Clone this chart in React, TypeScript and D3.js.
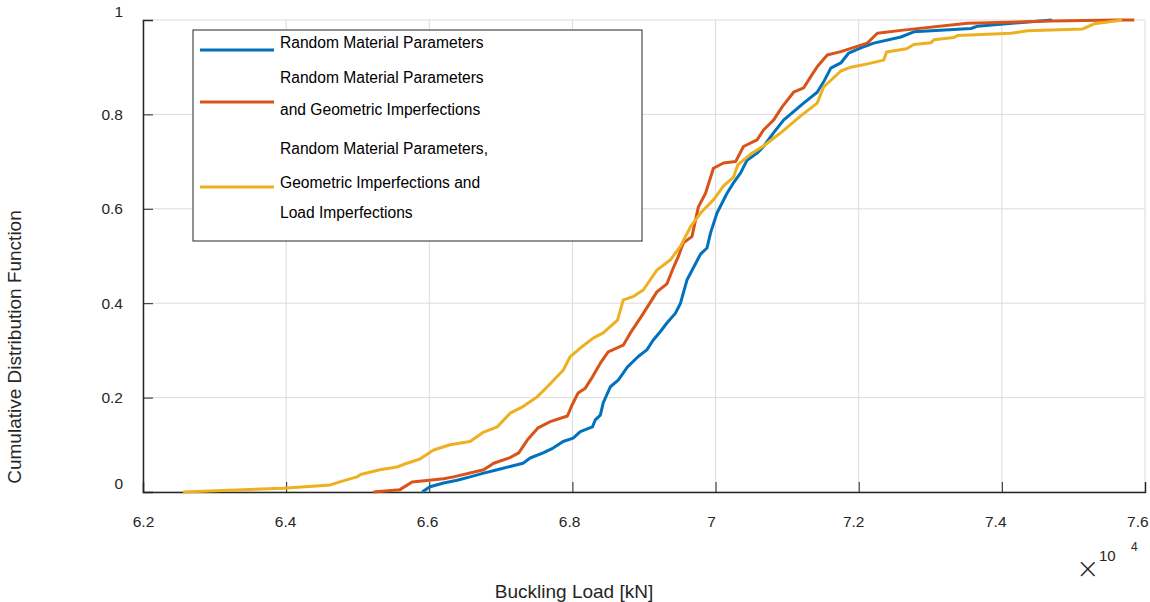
import React, { useEffect, useRef } from "react";
import * as d3 from "d3";

const materialLoad = [65900, 66010, 66200, 66390, 66570, 66760, 66950, 67130, 67310, 67410, 67590, 67730, 67870, 68010, 68110, 68280, 68320, 68390, 68430, 68530, 68640, 68770, 68920, 69040, 69130, 69230, 69320, 69440, 69510, 69600, 69690, 69790, 69880, 69930, 70020, 70160, 70250, 70350, 70440, 70580, 70670, 70810, 70950, 71090, 71230, 71420, 71510, 71610, 71750, 71860, 72030, 72210, 72590, 72770, 73570, 73660, 74700];
const materialCdf = [0, 0.011, 0.019, 0.025, 0.032, 0.04, 0.047, 0.054, 0.061, 0.072, 0.083, 0.093, 0.107, 0.114, 0.128, 0.138, 0.153, 0.163, 0.189, 0.223, 0.237, 0.265, 0.287, 0.301, 0.322, 0.34, 0.358, 0.379, 0.4, 0.449, 0.475, 0.504, 0.517, 0.549, 0.591, 0.633, 0.655, 0.676, 0.703, 0.718, 0.732, 0.761, 0.788, 0.806, 0.824, 0.847, 0.869, 0.898, 0.909, 0.93, 0.941, 0.951, 0.964, 0.975, 0.982, 0.987, 1];

const geomLoad = [65220, 65590, 65760, 66200, 66340, 66760, 66900, 67130, 67250, 67370, 67520, 67690, 67930, 68000, 68080, 68180, 68280, 68390, 68500, 68710, 68810, 68950, 69110, 69180, 69320, 69410, 69480, 69550, 69670, 69760, 69860, 69970, 70110, 70280, 70390, 70580, 70670, 70810, 70930, 71090, 71230, 71330, 71420, 71560, 71750, 72120, 72260, 72590, 73520, 74690, 75620, 75850];
const geomCdf = [0, 0.005, 0.021, 0.028, 0.032, 0.047, 0.061, 0.073, 0.083, 0.11, 0.136, 0.149, 0.161, 0.186, 0.21, 0.22, 0.244, 0.273, 0.297, 0.311, 0.337, 0.369, 0.407, 0.424, 0.441, 0.475, 0.499, 0.528, 0.541, 0.604, 0.633, 0.686, 0.697, 0.7, 0.732, 0.746, 0.767, 0.788, 0.816, 0.847, 0.856, 0.88, 0.901, 0.926, 0.933, 0.951, 0.972, 0.978, 0.993, 0.998, 1, 1];

const loadImpLoad = [62560, 63960, 64620, 64760, 64990, 65040, 65310, 65550, 65690, 65870, 66060, 66290, 66570, 66760, 66950, 67130, 67310, 67510, 67650, 67870, 67970, 68110, 68290, 68430, 68630, 68710, 68850, 68990, 69180, 69370, 69510, 69650, 69790, 69970, 70110, 70250, 70310, 70490, 70670, 70910, 71190, 71420, 71510, 71750, 71890, 72120, 72350, 72390, 72670, 72770, 73010, 73050, 73330, 73380, 74130, 74360, 75130, 75290, 75640, 75680];
const loadImpCdf = [0, 0.008, 0.015, 0.022, 0.032, 0.037, 0.047, 0.053, 0.061, 0.07, 0.089, 0.1, 0.107, 0.127, 0.138, 0.167, 0.181, 0.202, 0.223, 0.258, 0.287, 0.305, 0.326, 0.337, 0.364, 0.407, 0.414, 0.428, 0.47, 0.492, 0.521, 0.562, 0.591, 0.619, 0.648, 0.667, 0.693, 0.716, 0.733, 0.761, 0.797, 0.824, 0.858, 0.892, 0.9, 0.907, 0.915, 0.932, 0.939, 0.948, 0.952, 0.958, 0.963, 0.967, 0.972, 0.977, 0.981, 0.992, 0.999, 1];

const xTicks = [62000, 64000, 66000, 68000, 70000, 72000, 74000, 76000];
const yTicks = [0, 0.2, 0.4, 0.6, 0.8, 1];

const series = [
  { name: ["Random Material Parameters"], load: materialLoad, cdf: materialCdf, color: "#0072BD" },
  { name: ["Random Material Parameters", "and Geometric Imperfections"], load: geomLoad, cdf: geomCdf, color: "#D95319" },
  {
    name: ["Random Material Parameters,", "Geometric Imperfections and", "Load Imperfections"],
    load: loadImpLoad,
    cdf: loadImpCdf,
    color: "#EDB120",
  },
];

const FONT = "'Liberation Sans', Arial, Helvetica, sans-serif";
const INK = "#262626";

const App = () => {
  const ref = useRef<SVGSVGElement>(null);

  useEffect(() => {
    const width = 1150;
    const height = 602;
    const margin = { top: 20, right: 5, bottom: 110, left: 143 };
    const innerW = width - margin.left - margin.right;
    const innerH = height - margin.top - margin.bottom;

    const svg = d3.select(ref.current);
    svg.selectAll("*").remove();
    svg.attr("width", width).attr("height", height);

    const g = svg.append("g").attr("transform", `translate(${margin.left},${margin.top})`);

    const x = d3.scaleLinear().domain([62000, 76000]).range([0, innerW]);
    const y = d3.scaleLinear().domain([0, 1]).range([innerH, 0]);

    // grid
    g.append("g")
      .selectAll("line")
      .data(xTicks)
      .join("line")
      .attr("x1", (d) => x(d))
      .attr("x2", (d) => x(d))
      .attr("y1", 0)
      .attr("y2", innerH)
      .attr("stroke", "#dcdcdc")
      .attr("stroke-width", 1);
    g.append("g")
      .selectAll("line")
      .data(yTicks)
      .join("line")
      .attr("x1", 0)
      .attr("x2", innerW)
      .attr("y1", (d) => y(d))
      .attr("y2", (d) => y(d))
      .attr("stroke", "#dcdcdc")
      .attr("stroke-width", 1);

    // axes, ticks point inward like matlab
    const xAxis = g
      .append("g")
      .attr("transform", `translate(0,${innerH})`)
      .call(d3.axisBottom(x).tickValues(xTicks).tickSize(-10).tickPadding(24).tickFormat((d) => String(+d / 10000)));
    const yAxis = g
      .append("g")
      .call(d3.axisLeft(y).tickValues(yTicks).tickSize(-10).tickPadding(20).tickFormat((d) => String(d)));

    [xAxis, yAxis].forEach((ax) => {
      ax.select(".domain").attr("stroke", INK).attr("stroke-width", 1.5);
      ax.selectAll(".tick line").attr("stroke", INK);
      ax.selectAll("text").attr("fill", INK).style("font-family", FONT).style("font-size", "15.5px");
    });
    xAxis.selectAll<SVGTextElement, number>("text").attr("dx", (d, i) => -i * 1.1);
    yAxis
      .selectAll<SVGTextElement, number>("text")
      .attr("dy", (d) => (d === 0 ? "-0.25em" : d === 1 ? "-0.2em" : "0.32em"));

    // curves
    series.forEach((s) => {
      const pts = s.load.map((v, i) => [v, s.cdf[i]] as [number, number]);
      g.append("path")
        .datum(pts)
        .attr("fill", "none")
        .attr("stroke", s.color)
        .attr("stroke-width", 3)
        .attr("stroke-linejoin", "round")
        .attr("d", d3.line<[number, number]>().x((d) => x(d[0])).y((d) => y(d[1])));
    });

    // legend
    const lg = svg.append("g").attr("transform", "translate(193,30)");
    lg.append("rect").attr("width", 449).attr("height", 211).attr("fill", "#fff").attr("stroke", INK).attr("stroke-width", 1);
    const rows = [
      { lineY: 20, textY: [18] },
      { lineY: 72, textY: [53, 85] },
      { lineY: 157, textY: [124, 158, 188] },
    ];
    series.forEach((s, i) => {
      lg.append("line")
        .attr("x1", 7)
        .attr("x2", 81)
        .attr("y1", rows[i].lineY)
        .attr("y2", rows[i].lineY)
        .attr("stroke", s.color)
        .attr("stroke-width", 3);
      s.name.forEach((t, j) => {
        lg.append("text")
          .attr("x", 87)
          .attr("y", rows[i].textY[j])
          .attr("fill", "#000")
          .style("font-family", FONT)
          .style("font-size", "15.6px")
          .text(t);
      });
    });

    // axis labels
    svg.append("text")
      .attr("x", 574)
      .attr("y", 598)
      .attr("text-anchor", "middle")
      .attr("fill", INK)
      .style("font-family", FONT)
      .style("font-size", "19px")
      .text("Buckling Load [kN]");
    svg.append("text")
      .attr("transform", "translate(21,347) rotate(-90)")
      .attr("text-anchor", "middle")
      .attr("fill", INK)
      .style("font-family", FONT)
      .style("font-size", "19px")
      .text("Cumulative Distribution Function");

    // exponent
    svg.append("text").attr("x", 1076).attr("y", 578).attr("fill", INK)
      .style("font-family", "'DejaVu Sans', sans-serif").style("font-size", "28px").style("font-weight", "200").text("×");
    svg.append("text").attr("x", 1099).attr("y", 561).attr("fill", INK)
      .style("font-family", FONT).style("font-size", "15px").text("10");
    svg.append("text").attr("x", 1131).attr("y", 551).attr("fill", INK)
      .style("font-family", FONT).style("font-size", "12px").text("4");
  }, []);

  return <svg ref={ref} style={{ position: "absolute", left: 0, top: 0, background: "#fff" }}></svg>;
};

export default App;
